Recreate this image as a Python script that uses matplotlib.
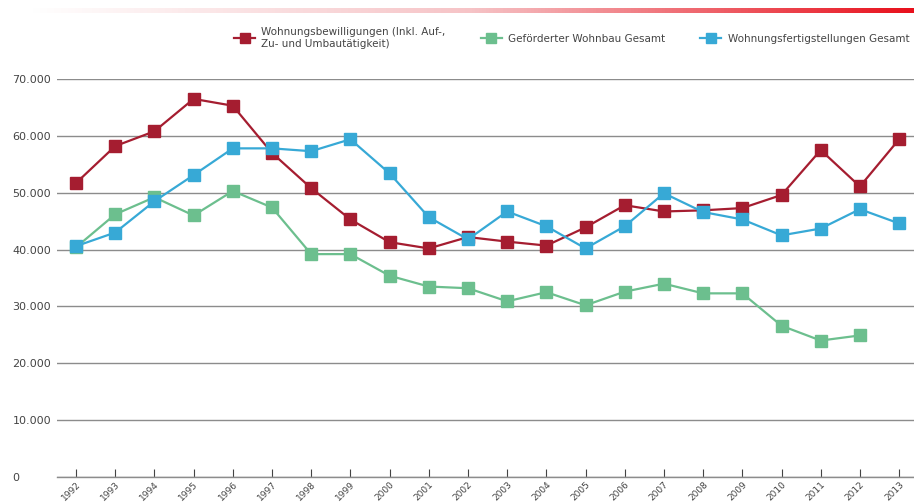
import numpy as np
import matplotlib
matplotlib.use("Agg")
import matplotlib.pyplot as plt
from matplotlib.colors import LinearSegmentedColormap

years = list(range(1992, 2014))

bewilligungen = [51.7, 58.2, 60.8, 66.5, 65.3, 57.0, 50.8, 45.3, 41.3, 40.2, 42.2,
                 41.4, 40.7, 43.9, 47.8, 46.7, 46.9, 47.3, 49.6, 57.5, 51.1, 59.4]
gefoerdert = [40.4, 46.2, 49.2, 46.0, 50.3, 47.4, 39.2, 39.2, 35.4, 33.5, 33.2,
              30.9, 32.5, 30.2, 32.6, 34.0, 32.3, 32.3, 26.6, 24.0, 24.9, None]
fertigstellungen = [40.6, 43.0, 48.5, 53.1, 57.8, 57.8, 57.3, 59.4, 53.4, 45.7, 41.8,
                    46.7, 44.1, 40.2, 44.1, 49.9, 46.6, 45.3, 42.5, 43.7, 47.1, 44.6]

labels = ["Wohnungsbewilligungen (Inkl. Auf-,\nZu- und Umbautätigkeit)",
          "Geförderter Wohnbau Gesamt",
          "Wohnungsfertigstellungen Gesamt"]
colors = ["#a51d30", "#6cbf8e", "#37a9d6"]

yticks = [0, 10000, 20000, 30000, 40000, 50000, 60000, 70000]
ytick_labels = ["0", "10.000", "20.000", "30.000", "40.000", "50.000", "60.000", "70.000"]

fig = plt.figure(figsize=(9.14, 5.04), dpi=100)
ax = fig.add_axes([57 / 914, 1 - 477 / 504, 1 - 57 / 914, (477 - 79) / 504])

series = [bewilligungen, gefoerdert, fertigstellungen]
for vals, col, lab in zip(series, colors, labels):
    y = np.array([np.nan if v is None else v * 1000 for v in vals])
    ax.plot(years, y, color=col, lw=1.6, marker="s", markersize=8.5,
            markeredgecolor=col, label=lab, clip_on=False, zorder=3)

ax.set_ylim(0, 70000)
ax.set_xlim(1991.515, 2013.38)
ax.set_yticks(yticks)
ax.set_yticklabels(ytick_labels)
ax.set_xticks(years)
ax.set_xticklabels([str(y) for y in years], rotation=45, ha="right",
                   rotation_mode="anchor")

ax.grid(axis="y", color="#8c8c8c", lw=1.0)
ax.set_axisbelow(True)
for side in ["top", "right", "left"]:
    ax.spines[side].set_visible(False)
ax.spines["bottom"].set_color("#8c8c8c")
ax.spines["bottom"].set_linewidth(1.0)

ax.tick_params(axis="y", length=0, pad=32, labelsize=8, labelcolor="#444444")
for t in ax.get_yticklabels():
    t.set_ha("left")
ax.tick_params(axis="x", direction="in", length=6, color="#444444",
               labelsize=6.5, labelcolor="#444444", pad=2)

# fading red bar along the top edge
bar = fig.add_axes([30 / 914, 1 - 13 / 504, 1 - 30 / 914, 5 / 504])
fade = LinearSegmentedColormap.from_list("fade", ["#ffffff", "#f6c3c6", "#e8101c"])
bar.imshow(np.linspace(0, 1, 256)[None, :], aspect="auto", cmap=fade)
bar.axis("off")

fig.legend(loc="upper right", bbox_to_anchor=(1.005, 0.965), ncol=3, frameon=False,
           fontsize=7.5, labelcolor="#444444", handlelength=2.0, columnspacing=3.4,
           handletextpad=0.6, markerscale=0.9)

fig.savefig("out.png", dpi=100)
